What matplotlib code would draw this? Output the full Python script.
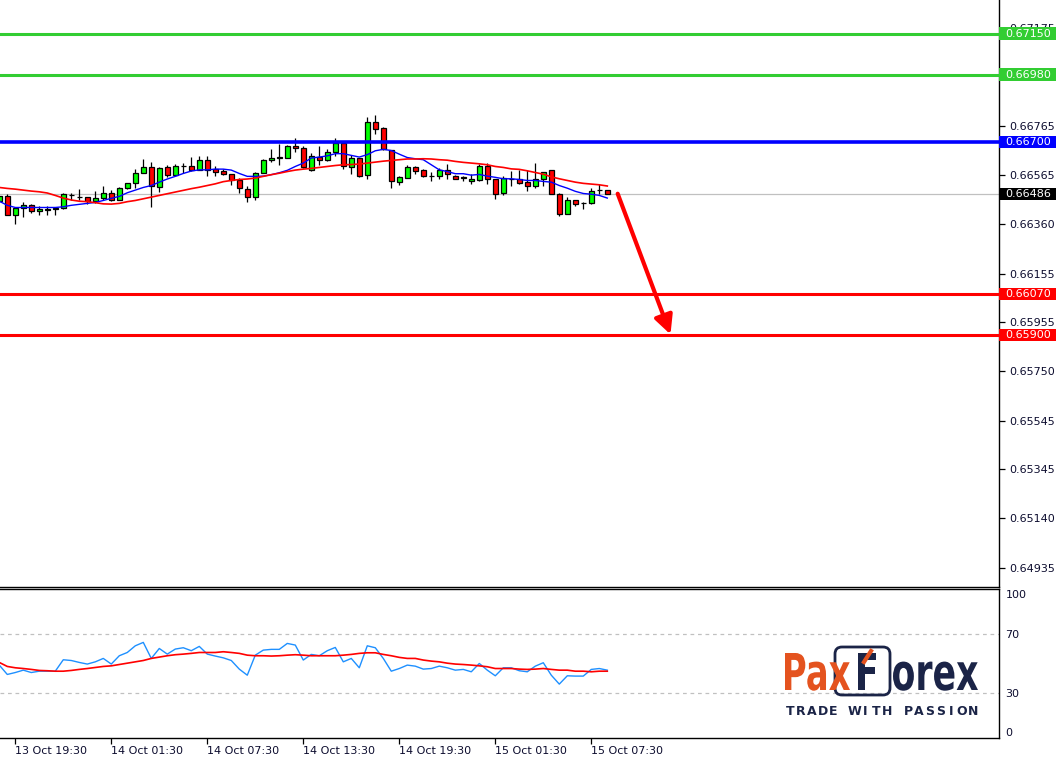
import numpy as np
import matplotlib
matplotlib.use('Agg')
import matplotlib.pyplot as plt
import matplotlib.transforms as mtransforms
from matplotlib.patches import Rectangle, FancyBboxPatch, PathPatch
from matplotlib.textpath import TextPath
from matplotlib.font_manager import FontProperties
from matplotlib.lines import Line2D

# M30 candles, first one is 13 Oct 18:30
opens = [0.66454, 0.66475, 0.66399, 0.66426, 0.66438, 0.66413, 0.66420, 0.66422, 0.66426, 0.66480,
         0.66473, 0.66471, 0.66454, 0.66467, 0.66491, 0.66462, 0.66509, 0.66529, 0.66574, 0.66595,
         0.66512, 0.66595, 0.66562, 0.66599, 0.66603, 0.66585, 0.66624, 0.66588, 0.66580, 0.66566,
         0.66542, 0.66505, 0.66471, 0.66574, 0.66624, 0.66636, 0.66636, 0.66682, 0.66674, 0.66585,
         0.66639, 0.66627, 0.66661, 0.66696, 0.66595, 0.66634, 0.66565, 0.66783, 0.66758, 0.66667,
         0.66536, 0.66552, 0.66596, 0.66583, 0.66560, 0.66560, 0.66583, 0.66558, 0.66554, 0.66537,
         0.66541, 0.66602, 0.66545, 0.66487, 0.66549, 0.66549, 0.66534, 0.66520, 0.66549, 0.66583,
         0.66486, 0.66403, 0.66462, 0.66449, 0.66447, 0.66500, 0.66500]
highs = [0.66478, 0.66484, 0.66429, 0.66450, 0.66444, 0.66436, 0.66435, 0.66433, 0.66491, 0.66489,
         0.66505, 0.66472, 0.66496, 0.66520, 0.66501, 0.66515, 0.66529, 0.66588, 0.66630, 0.66617,
         0.66595, 0.66606, 0.66609, 0.66613, 0.66638, 0.66642, 0.66642, 0.66601, 0.66589, 0.66566,
         0.66551, 0.66520, 0.66578, 0.66630, 0.66671, 0.66693, 0.66689, 0.66717, 0.66682, 0.66654,
         0.66682, 0.66671, 0.66717, 0.66703, 0.66645, 0.66636, 0.66804, 0.66813, 0.66764, 0.66667,
         0.66558, 0.66606, 0.66603, 0.66589, 0.66578, 0.66592, 0.66609, 0.66562, 0.66560, 0.66567,
         0.66609, 0.66613, 0.66545, 0.66558, 0.66581, 0.66585, 0.66585, 0.66613, 0.66578, 0.66585,
         0.66491, 0.66471, 0.66462, 0.66450, 0.66509, 0.66527, 0.66500]
lows = [0.66451, 0.66399, 0.66362, 0.66388, 0.66406, 0.66396, 0.66399, 0.66399, 0.66424, 0.66460,
        0.66461, 0.66444, 0.66447, 0.66461, 0.66457, 0.66460, 0.66507, 0.66509, 0.66574, 0.66432,
        0.66493, 0.66554, 0.66558, 0.66571, 0.66581, 0.66584, 0.66558, 0.66558, 0.66565, 0.66523,
        0.66491, 0.66450, 0.66458, 0.66574, 0.66616, 0.66606, 0.66636, 0.66661, 0.66592, 0.66581,
        0.66606, 0.66623, 0.66643, 0.66588, 0.66569, 0.66554, 0.66548, 0.66735, 0.66668, 0.66509,
        0.66523, 0.66551, 0.66567, 0.66556, 0.66540, 0.66548, 0.66549, 0.66547, 0.66537, 0.66527,
        0.66540, 0.66526, 0.66465, 0.66482, 0.66520, 0.66526, 0.66496, 0.66509, 0.66516, 0.66484,
        0.66392, 0.66402, 0.66436, 0.66424, 0.66444, 0.66484, 0.66484]
closes = [0.66475, 0.66399, 0.66426, 0.66438, 0.66413, 0.66422, 0.66421, 0.66425, 0.66483, 0.66482,
          0.66472, 0.66457, 0.66467, 0.66491, 0.66458, 0.66508, 0.66529, 0.66574, 0.66595, 0.66516,
          0.66591, 0.66562, 0.66599, 0.66602, 0.66584, 0.66624, 0.66584, 0.66577, 0.66566, 0.66541,
          0.66508, 0.66471, 0.66574, 0.66624, 0.66636, 0.66638, 0.66682, 0.66674, 0.66596, 0.66641,
          0.66627, 0.66661, 0.66696, 0.66602, 0.66636, 0.66560, 0.66783, 0.66755, 0.66672, 0.66537,
          0.66554, 0.66595, 0.66581, 0.66560, 0.66559, 0.66583, 0.66569, 0.66548, 0.66551, 0.66547,
          0.66599, 0.66545, 0.66486, 0.66551, 0.66548, 0.66529, 0.66520, 0.66549, 0.66578, 0.66486,
          0.66403, 0.66462, 0.66444, 0.66446, 0.66496, 0.66501, 0.66486]

# moving averages on price (blue = fast, red = slow)
ma_fast = [0.66455, 0.66438, 0.66429, 0.66429, 0.66429, 0.66429, 0.66429, 0.66429, 0.66432, 0.66438,
           0.66442, 0.66446, 0.66450, 0.66458, 0.66467, 0.66475, 0.66490, 0.66501, 0.66512, 0.66520,
           0.66534, 0.66547, 0.66558, 0.66570, 0.66580, 0.66585, 0.66585, 0.66588, 0.66588, 0.66584,
           0.66570, 0.66558, 0.66558, 0.66559, 0.66565, 0.66573, 0.66583, 0.66599, 0.66613, 0.66634,
           0.66638, 0.66643, 0.66652, 0.66652, 0.66645, 0.66638, 0.66648, 0.66664, 0.66670, 0.66665,
           0.66650, 0.66636, 0.66631, 0.66627, 0.66606, 0.66585, 0.66578, 0.66569, 0.66569, 0.66563,
           0.66566, 0.66559, 0.66554, 0.66548, 0.66548, 0.66545, 0.66541, 0.66541, 0.66537, 0.66534,
           0.66520, 0.66509, 0.66496, 0.66487, 0.66484, 0.66479, 0.66468]
ma_slow = [0.66512, 0.66508, 0.66505, 0.66501, 0.66497, 0.66494, 0.66489, 0.66479, 0.66468, 0.66460,
           0.66455, 0.66453, 0.66449, 0.66444, 0.66443, 0.66446, 0.66453, 0.66458, 0.66465, 0.66472,
           0.66479, 0.66486, 0.66493, 0.66500, 0.66507, 0.66513, 0.66520, 0.66527, 0.66536, 0.66541,
           0.66545, 0.66547, 0.66551, 0.66558, 0.66565, 0.66571, 0.66578, 0.66584, 0.66588, 0.66591,
           0.66595, 0.66599, 0.66603, 0.66606, 0.66607, 0.66609, 0.66613, 0.66617, 0.66621, 0.66624,
           0.66627, 0.66630, 0.66630, 0.66631, 0.66630, 0.66627, 0.66625, 0.66620, 0.66616, 0.66613,
           0.66610, 0.66606, 0.66599, 0.66595, 0.66589, 0.66587, 0.66581, 0.66574, 0.66567, 0.66556,
           0.66548, 0.66541, 0.66534, 0.66529, 0.66526, 0.66523, 0.66518]

# RSI and its signal line
rsi = [49.1, 42.8, 44.1, 45.7, 44.1, 45.0, 45.0, 45.0, 52.7, 52.2,
       50.9, 49.8, 51.3, 53.6, 49.8, 55.4, 57.6, 62.1, 64.4, 53.6,
       60.3, 56.5, 59.9, 60.8, 58.8, 61.7, 56.5, 55.2, 54.0, 52.2,
       46.4, 42.3, 55.8, 59.2, 59.7, 59.7, 63.7, 62.6, 52.5, 56.3,
       55.4, 58.8, 61.0, 51.3, 53.6, 47.3, 62.1, 60.8, 53.6, 45.0,
       46.8, 49.1, 48.4, 46.4, 46.8, 48.4, 47.3, 45.7, 46.2, 44.6,
       50.2, 45.7, 41.9, 47.3, 47.3, 45.3, 44.6, 48.4, 50.7, 42.3,
       36.3, 41.9, 41.7, 41.7, 46.2, 46.8, 45.7]
rsi_ma = [50.9, 48.2, 47.3, 46.8, 46.2, 45.5, 45.3, 45.0, 45.0, 45.5,
          46.2, 46.8, 47.5, 48.2, 48.6, 49.5, 50.4, 51.3, 52.2, 53.6,
          54.5, 55.4, 56.1, 56.5, 57.0, 57.6, 57.6, 57.6, 58.1, 57.6,
          57.0, 55.8, 55.4, 55.4, 55.2, 55.4, 55.8, 56.1, 55.8, 55.4,
          55.4, 55.4, 55.4, 55.8, 56.3, 57.0, 57.4, 57.4, 56.3, 55.4,
          54.3, 53.6, 53.6, 52.5, 51.8, 51.3, 50.4, 49.8, 49.5, 49.1,
          48.6, 48.0, 46.8, 46.8, 46.8, 46.4, 46.2, 46.4, 46.8, 46.2,
          45.7, 45.7, 45.0, 45.0, 44.6, 45.0, 45.0]

resistances = [0.67150, 0.66980]
pivot = 0.66700
supports = [0.66070, 0.65900]
last_price = 0.66486
target = 0.65900

price_ticks = [0.67175, 0.66765, 0.66565, 0.66360, 0.66155,
               0.65955, 0.65750, 0.65545, 0.65345, 0.65140, 0.64935]
time_labels = ['13 Oct 19:30', '14 Oct 01:30', '14 Oct 07:30', '14 Oct 13:30',
               '14 Oct 19:30', '15 Oct 01:30', '15 Oct 07:30']
time_ticks = [2, 14, 26, 38, 50, 62, 74]

W, H = 1062, 758
TXT = '#0c0c2e'
GREEN = '#32CD32'
NAVY = '#1b2447'
ORANGE = '#e4531f'


def box(x0, y0, x1, y1):
    return [x0 / W, 1 - y1 / H, (x1 - x0) / W, (y1 - y0) / H]


fig = plt.figure(figsize=(W / 100, H / 100), dpi=100)
ax = fig.add_axes(box(0, 0, 998.5, 586.5))
ax2 = fig.add_axes(box(0, 588.5, 998.5, 738))

x = np.arange(len(opens))
o = np.array(opens)
c = np.array(closes)

# ---- main price panel
ax.vlines(x, lows, highs, color='black', lw=0.9, zorder=2)
cols = np.where(c > o, '#00ff00', np.where(c < o, '#ff0000', 'black'))
ax.bar(x, c - o, bottom=o, width=0.62, color=cols, edgecolor='black', linewidth=0.9, zorder=2.1)

ax.plot(x, ma_fast, color='#0000ff', lw=1.0, zorder=3)
ax.plot(x, ma_slow, color='#ff0000', lw=1.2, zorder=3)

ax.axhline(last_price, color='#c0c0c0', lw=0.9, zorder=1)
for lv in resistances:
    ax.axhline(lv, color=GREEN, lw=2.2, zorder=4)
ax.axhline(pivot, color='#0000ff', lw=2.6, zorder=4)
for lv in supports:
    ax.axhline(lv, color='#ff0000', lw=2.2, zorder=4)

ax.annotate('', xy=(x[-1] + 7.9, target + 0.00003), xytext=(x[-1] + 1.3, last_price),
            arrowprops=dict(arrowstyle='-|>', color='#ff0000', lw=3, mutation_scale=28,
                            shrinkA=0, shrinkB=0), zorder=5)

ax.set_xlim(0.09, 124.9)
ax.set_ylim(0.64858, 0.67289)
ax.set_xticks([])
ax.yaxis.tick_right()
ax.set_yticks(price_ticks)
ax.set_yticklabels([f'{t:.5f}' for t in price_ticks])
ax.tick_params(axis='y', direction='out', length=4, width=0.9, pad=4,
               labelsize=8, labelcolor=TXT, color='black')
for s in ['left', 'top']:
    ax.spines[s].set_visible(False)
for s in ['right', 'bottom']:
    ax.spines[s].set_linewidth(1.0)

# coloured price tags on the right scale
blend = mtransforms.blended_transform_factory(ax.transAxes, ax.transData)
half = 6.2 / (586.5 / (0.67289 - 0.64858))
tags = [(lv, GREEN) for lv in resistances] + [(pivot, '#0000ff')] + \
       [(lv, '#ff0000') for lv in supports] + [(last_price, 'black')]
for lv, col in tags:
    ax.add_patch(Rectangle((1.0, lv - half), 57.5 / 998.5, 2 * half, transform=blend,
                           facecolor=col, edgecolor='none', clip_on=False, zorder=6))
    ax.text(1.0 + 6.5 / 998.5, lv, f'{lv:.5f}', transform=blend, color='white',
            fontsize=8, va='center', ha='left', clip_on=False, zorder=7)

# ---- RSI panel
ax2.plot(x, rsi, color='#1e90ff', lw=1.0, zorder=3)
ax2.plot(x, rsi_ma, color='#ff0000', lw=1.2, zorder=3)
for lv in [70, 30]:
    ax2.axhline(lv, color='#c0c0c0', lw=0.9, ls=(0, (3, 3)), zorder=1)
ax2.set_xlim(0.09, 124.9)
ax2.set_ylim(0, 100.7)
ax2.yaxis.tick_right()
ax2.set_yticks([0, 30, 70, 100])
ax2.set_yticklabels(['0', '30', '70', '100'])
ax2.tick_params(axis='y', length=0, pad=5, labelsize=8, labelcolor=TXT)
labs = ax2.get_yticklabels()
labs[0].set_va('bottom')
labs[3].set_va('top')
ax2.set_xticks(time_ticks)
ax2.set_xticklabels(time_labels, ha='left')
ax2.tick_params(axis='x', direction='out', length=4, width=0.9, pad=2,
                labelsize=8, labelcolor=TXT)
ax2.spines['left'].set_visible(False)
for s in ['right', 'bottom', 'top']:
    ax2.spines[s].set_linewidth(1.0)

# ---- PaxForex logo (pixel positions, drawn with text paths)
fp = FontProperties(family='DejaVu Sans', weight='bold')
cap_em = TextPath((0, 0), 'H', size=1, prop=fp).get_extents().height


def logo_word(s, x0, base, width, cap, color):
    tp = TextPath((0, 0), s, size=1, prop=fp)
    ext = tp.get_extents()
    sx = width / ext.width
    sy = cap / cap_em
    tr = mtransforms.Affine2D().translate(-ext.x0, 0).scale(sx / 100, sy / 100) \
        .translate(x0 / 100, (H - base) / 100) + fig.dpi_scale_trans
    fig.add_artist(PathPatch(tp, transform=tr, facecolor=color, edgecolor='none', zorder=5))


fig.add_artist(FancyBboxPatch((835 / 100, (H - 695) / 100), 55 / 100, 48 / 100,
                              boxstyle='round,pad=0,rounding_size=0.07',
                              transform=fig.dpi_scale_trans, fill=False,
                              edgecolor=NAVY, lw=2, zorder=4))
logo_word('Pax', 785, 690, 65, 37, ORANGE)
logo_word('F', 858, 690, 18, 37, NAVY)
logo_word('orex', 893, 690, 85, 37, NAVY)
fig.add_artist(Line2D([864 / 100, 871 / 100], [(H - 662) / 100, (H - 651) / 100],
                      transform=fig.dpi_scale_trans, color=ORANGE, lw=3, zorder=6))

tagline = 'TRADE WITH PASSION'
cell = (978 - 785) / len(tagline)
for k, ch in enumerate(tagline):
    fig.text((785 + cell * (k + 0.5)) / W, 1 - 711.5 / H, ch, ha='center', va='center',
             fontsize=9, fontweight='bold', color=NAVY)

fig.savefig('out.png', dpi=100)
